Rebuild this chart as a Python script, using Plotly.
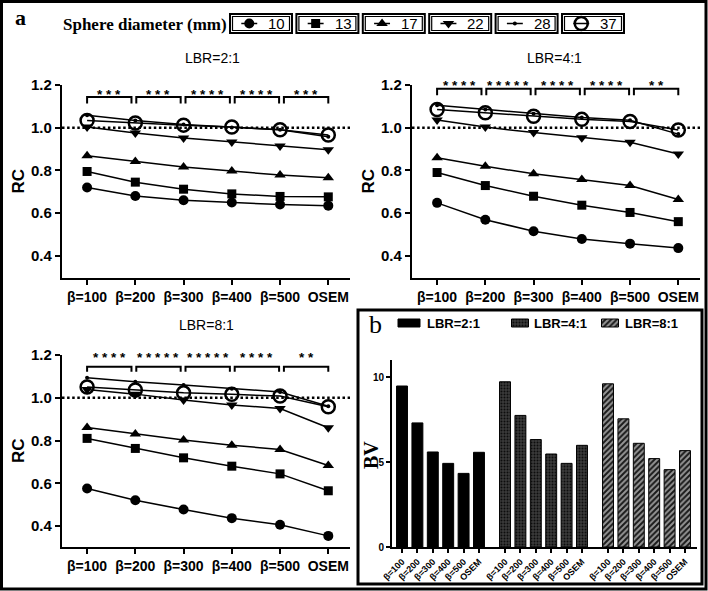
import plotly.graph_objects as go

# ---------------- data ----------------
categories = ["β=100", "β=200", "β=300", "β=400", "β=500", "OSEM"]
diameters = ["10", "13", "17", "22", "28", "37"]

rc_lbr2_d10 = [0.72, 0.68, 0.66, 0.65, 0.64, 0.635]
rc_lbr2_d13 = [0.795, 0.745, 0.712, 0.69, 0.678, 0.676]
rc_lbr2_d17 = [0.869, 0.842, 0.816, 0.797, 0.778, 0.766]
rc_lbr2_d22 = [1.003, 0.975, 0.952, 0.933, 0.914, 0.897]
rc_lbr2_d28 = [1.058, 1.034, 1.015, 1.001, 0.99, 0.958]
rc_lbr2_d37 = [1.034, 1.022, 1.012, 1.003, 0.99, 0.966]

rc_lbr4_d10 = [0.648, 0.569, 0.515, 0.479, 0.457, 0.436]
rc_lbr4_d13 = [0.79, 0.729, 0.679, 0.637, 0.603, 0.56]
rc_lbr4_d17 = [0.859, 0.819, 0.784, 0.757, 0.729, 0.664]
rc_lbr4_d22 = [1.036, 1.003, 0.977, 0.953, 0.932, 0.877]
rc_lbr4_d28 = [1.105, 1.085, 1.065, 1.048, 1.035, 0.97]
rc_lbr4_d37 = [1.085, 1.07, 1.054, 1.039, 1.029, 0.989]

rc_lbr8_d10 = [0.576, 0.521, 0.477, 0.437, 0.406, 0.354]
rc_lbr8_d13 = [0.81, 0.763, 0.719, 0.68, 0.644, 0.565]
rc_lbr8_d17 = [0.861, 0.83, 0.802, 0.778, 0.758, 0.683]
rc_lbr8_d22 = [1.039, 1.017, 0.989, 0.966, 0.95, 0.86]
rc_lbr8_d28 = [1.094, 1.075, 1.06, 1.042, 1.027, 0.96]
rc_lbr8_d37 = [1.05, 1.036, 1.023, 1.016, 1.008, 0.958]

stars_lbr2 = ["***", "***", "****", "****", "***"]
stars_lbr4 = ["****", "*****", "****", "****", "**"]
stars_lbr8 = ["****", "*****", "*****", "****", "**"]

bv_lbr2 = [9.47, 7.3, 5.59, 4.92, 4.33, 5.57]
bv_lbr4 = [9.72, 7.74, 6.32, 5.47, 4.92, 5.98]
bv_lbr8 = [9.6, 7.54, 6.1, 5.2, 4.55, 5.67]
lbr_labels = ["LBR=2:1", "LBR=4:1", "LBR=8:1"]

rc_ticks = [0.4, 0.6, 0.8, 1.0, 1.2]
bv_ticks = [0, 5, 10]

# ---------------- layout helpers ----------------
W, H = 708, 591
def fx(p):
    return p / W
def fy(p):
    return 1 - p / H

SANS = "Liberation Sans, Arial, sans-serif"
SERIF = "Liberation Serif, Times New Roman, serif"

marker_styles = {
    "10": dict(symbol="circle", size=10, color="black"),
    "13": dict(symbol="square", size=9, color="black"),
    "17": dict(symbol="triangle-up", size=10, color="black"),
    "22": dict(symbol="triangle-down", size=10, color="black"),
    "28": dict(symbol="circle", size=4, color="black"),
    "37": dict(symbol="circle-open", size=13, color="black",
               line=dict(width=2.5, color="black")),
}

bar_styles = [
    dict(color="black", line=dict(color="black", width=1)),
    dict(color="#333333", line=dict(color="black", width=1),
         pattern=dict(shape=".", fgcolor="#0d0d0d", bgcolor="#3a3a3a", size=3, solidity=0.35)),
    dict(color="#888888", line=dict(color="black", width=1),
         pattern=dict(shape="/", fgcolor="#1a1a1a", bgcolor="#959595", size=4, solidity=0.5)),
]

panels = [
    dict(series=[rc_lbr2_d10, rc_lbr2_d13, rc_lbr2_d17, rc_lbr2_d22, rc_lbr2_d28, rc_lbr2_d37],
         stars=stars_lbr2, title="LBR=2:1", xdom=(62, 350), ydom=(85, 278),
         ytop=1.144, yleg=1.113, star_gap=5, tpos=(212, 58), yr=(0.296, 1.2)),
    dict(series=[rc_lbr4_d10, rc_lbr4_d13, rc_lbr4_d17, rc_lbr4_d22, rc_lbr4_d28, rc_lbr4_d37],
         stars=stars_lbr4, title="LBR=4:1", xdom=(412, 700), ydom=(85, 278),
         ytop=1.183, yleg=1.152, star_gap=5.7, tpos=(554, 58), yr=(0.296, 1.2)),
    dict(series=[rc_lbr8_d10, rc_lbr8_d13, rc_lbr8_d17, rc_lbr8_d22, rc_lbr8_d28, rc_lbr8_d37],
         stars=stars_lbr8, title="LBR=8:1", xdom=(62, 350), ydom=(355, 547),
         ytop=1.145, yleg=1.122, star_gap=11.5, tpos=(206, 325), yr=(0.302, 1.2)),
]

fig = go.Figure()
layout = dict(width=W, height=H, margin=dict(l=0, r=0, t=0, b=0),
              paper_bgcolor="white", plot_bgcolor="rgba(0,0,0,0)",
              showlegend=False, template="none")
shapes = []
annotations = []

def paper_text(x, y, text, font, xanchor="center", yanchor="middle", angle=0):
    annotations.append(dict(x=fx(x), y=fy(y), xref="paper", yref="paper", text=text,
                            showarrow=False, xanchor=xanchor, yanchor=yanchor,
                            textangle=angle, font=font))

xidx = list(range(len(categories)))

def axkey(n, kind):
    return f"{kind}axis" if n == 1 else f"{kind}axis{n}"
def axref(n, kind):
    return kind if n == 1 else f"{kind}{n}"

for n, p in enumerate(panels, start=1):
    xr, yr_ = axref(n, "x"), axref(n, "y")
    for d, s in zip(diameters, p["series"]):
        fig.add_trace(go.Scatter(x=xidx, y=s, mode="lines+markers",
                                 line=dict(color="black", width=1.5),
                                 marker=marker_styles[d], cliponaxis=False,
                                 xaxis=xr, yaxis=yr_, showlegend=False))
    layout[axkey(n, "x")] = dict(
        domain=[fx(p["xdom"][0]), fx(p["xdom"][1])], anchor=yr_,
        range=[-0.52, 5.45], tickmode="array", tickvals=xidx, ticktext=categories,
        showline=True, linewidth=2.2, linecolor="black", ticks="outside", ticklen=5,
        tickwidth=2, tickcolor="black", showgrid=False, zeroline=False,
        tickfont=dict(family=SANS, size=14, color="black", weight="bold"))
    layout[axkey(n, "y")] = dict(
        domain=[fy(p["ydom"][1]), fy(p["ydom"][0])], anchor=xr,
        range=list(p["yr"]), tickmode="array", tickvals=rc_ticks, tickformat=".1f",
        showline=True, linewidth=2.2, linecolor="black", ticks="outside", ticklen=5,
        tickwidth=2, tickcolor="black", showgrid=False, zeroline=False,
        tickfont=dict(family=SANS, size=15, color="black", weight="bold"))
    paper_text(p["xdom"][0] - 44, (p["ydom"][0] + p["ydom"][1]) / 2, "RC",
               dict(family=SANS, size=17, color="black", weight="bold"), angle=-90)
    # dotted reference line at RC = 1
    shapes.append(dict(type="line", xref=f"{xr} domain", yref=yr_, x0=0, x1=1, y0=1.0, y1=1.0,
                       line=dict(color="black", width=2.5, dash="2.5px,2.6px")))
    # significance brackets
    for k, st in enumerate(p["stars"]):
        x0 = k * 1.02
        x1 = x0 + 0.92
        shapes.append(dict(type="path", xref=xr, yref=yr_,
                           path=f"M {x0},{p['yleg']} L {x0},{p['ytop']} L {x1},{p['ytop']} L {x1},{p['yleg']}",
                           line=dict(color="black", width=2)))
        annotations.append(dict(x=(x0 + x1) / 2, y=p["ytop"], xref=xr, yref=yr_,
                                xanchor="center", yanchor="middle",
                                text=" ".join(st), showarrow=False, yshift=p["star_gap"] - 2.5,
                                font=dict(family=SANS, size=13.5, color="black", weight="bold")))
    paper_text(p["tpos"][0], p["tpos"][1], p["title"], dict(family=SANS, size=14, color="black"))

# ---------------- panel b: bars ----------------
GROUP_STEP = 6.69
bv_groups = [bv_lbr2, bv_lbr4, bv_lbr8]
bpos_all, blabels_all = [], []
for g, vals in enumerate(bv_groups):
    pos = [g * GROUP_STEP + i for i in range(len(vals))]
    bpos_all += pos
    blabels_all += categories
    fig.add_trace(go.Bar(x=pos, y=vals, width=0.71, marker=bar_styles[g],
                         xaxis="x4", yaxis="y4", showlegend=False))
layout["xaxis4"] = dict(domain=[fx(392), fx(697)], anchor="y4", range=[-0.65, 19.16],
                        tickmode="array", tickvals=bpos_all, ticktext=blabels_all, tickangle=-45,
                        showline=True, linewidth=2, linecolor="black", ticks="outside",
                        ticklen=4, tickwidth=1.5, tickcolor="black", showgrid=False, zeroline=False,
                        tickfont=dict(family=SANS, size=9, color="black", weight="bold"))
layout["yaxis4"] = dict(domain=[fy(547), fy(360)], anchor="x4", range=[0, 11],
                        tickmode="array", tickvals=bv_ticks,
                        showline=True, linewidth=2, linecolor="black", ticks="outside",
                        ticklen=4, tickwidth=1.5, tickcolor="black", showgrid=False, zeroline=False,
                        tickfont=dict(family=SANS, size=10, color="black", weight="bold"))
paper_text(371, 455, "BV", dict(family=SERIF, size=20, color="black", weight="bold"), angle=-90)

# ---------------- panel b legend ----------------
LEGB_X = [409, 520, 610]
LEGB_W = [22, 17, 17]
LEGB_TXT = [425, 532, 623]
for g in range(3):
    fig.add_trace(go.Bar(x=[LEGB_X[g]], y=[0.8], base=[0.1], width=[LEGB_W[g]], marker=bar_styles[g],
                         xaxis="x6", yaxis="y6", showlegend=False, hoverinfo="skip"))
    paper_text(LEGB_TXT[g], 323, lbr_labels[g],
               dict(family=SANS, size=13, color="black", weight="bold"), xanchor="left")
layout["xaxis6"] = dict(domain=[fx(392), fx(700)], anchor="y6", range=[392, 700], visible=False)
layout["yaxis6"] = dict(domain=[fy(328), fy(318)], anchor="x6", range=[0, 1], visible=False)

# ---------------- top legend (sphere diameter) ----------------
BOX_X0, BOX_STEP, BOX_W, BOX_Y0, BOX_Y1 = 230, 66.4, 62, 14, 33
for i, d in enumerate(diameters):
    fig.add_trace(go.Scatter(x=[i + 0.17, i + 0.41], y=[0.5, 0.5], mode="lines",
                             line=dict(color="black", width=1.5),
                             xaxis="x5", yaxis="y5", showlegend=False, hoverinfo="skip"))
    fig.add_trace(go.Scatter(x=[i + 0.29], y=[0.5], mode="markers", marker=marker_styles[d],
                             xaxis="x5", yaxis="y5", showlegend=False, hoverinfo="skip"))
    bx0 = BOX_X0 + i * BOX_STEP
    shapes.append(dict(type="rect", xref="paper", yref="paper", x0=fx(bx0), x1=fx(bx0 + BOX_W),
                       y0=fy(BOX_Y1), y1=fy(BOX_Y0), line=dict(color="black", width=2)))
    shapes.append(dict(type="rect", xref="paper", yref="paper", x0=fx(bx0 + 2.5), x1=fx(bx0 + BOX_W - 2.5),
                       y0=fy(BOX_Y1 - 2.5), y1=fy(BOX_Y0 + 2.5), line=dict(color="black", width=1.2)))
    annotations.append(dict(x=i + 0.86, y=0.5, xref="x5", yref="y5", xanchor="right",
                            yanchor="middle", text=d, showarrow=False,
                            font=dict(family=SANS, size=15, color="black")))
layout["xaxis5"] = dict(domain=[fx(BOX_X0), fx(BOX_X0 + BOX_STEP * 6)], anchor="y5",
                        range=[0, 6], visible=False)
layout["yaxis5"] = dict(domain=[fy(BOX_Y1), fy(BOX_Y0)], anchor="x5", range=[0, 1], visible=False)

paper_text(61, 24, "Sphere diameter (mm)",
           dict(family=SERIF, size=17, color="black", weight="bold"), xanchor="left")
paper_text(20, 18, "a", dict(family=SERIF, size=22, color="black", weight="bold"))
paper_text(375, 324, "b", dict(family=SERIF, size=26, color="black"))

# frames
shapes.append(dict(type="rect", xref="paper", yref="paper", x0=fx(1.5), x1=fx(706),
                   y0=fy(589), y1=fy(1.5), line=dict(color="black", width=3)))
shapes.append(dict(type="rect", xref="paper", yref="paper", x0=fx(358), x1=fx(702),
                   y0=fy(584), y1=fy(310), line=dict(color="black", width=3)))

layout["shapes"] = shapes
layout["annotations"] = annotations
fig.update_layout(**layout)
fig.write_html("out.html", config={"displayModeBar": False},
               post_script="document.body.style.margin='0';document.body.style.padding='0';"
                           "document.documentElement.style.overflow='hidden';")
